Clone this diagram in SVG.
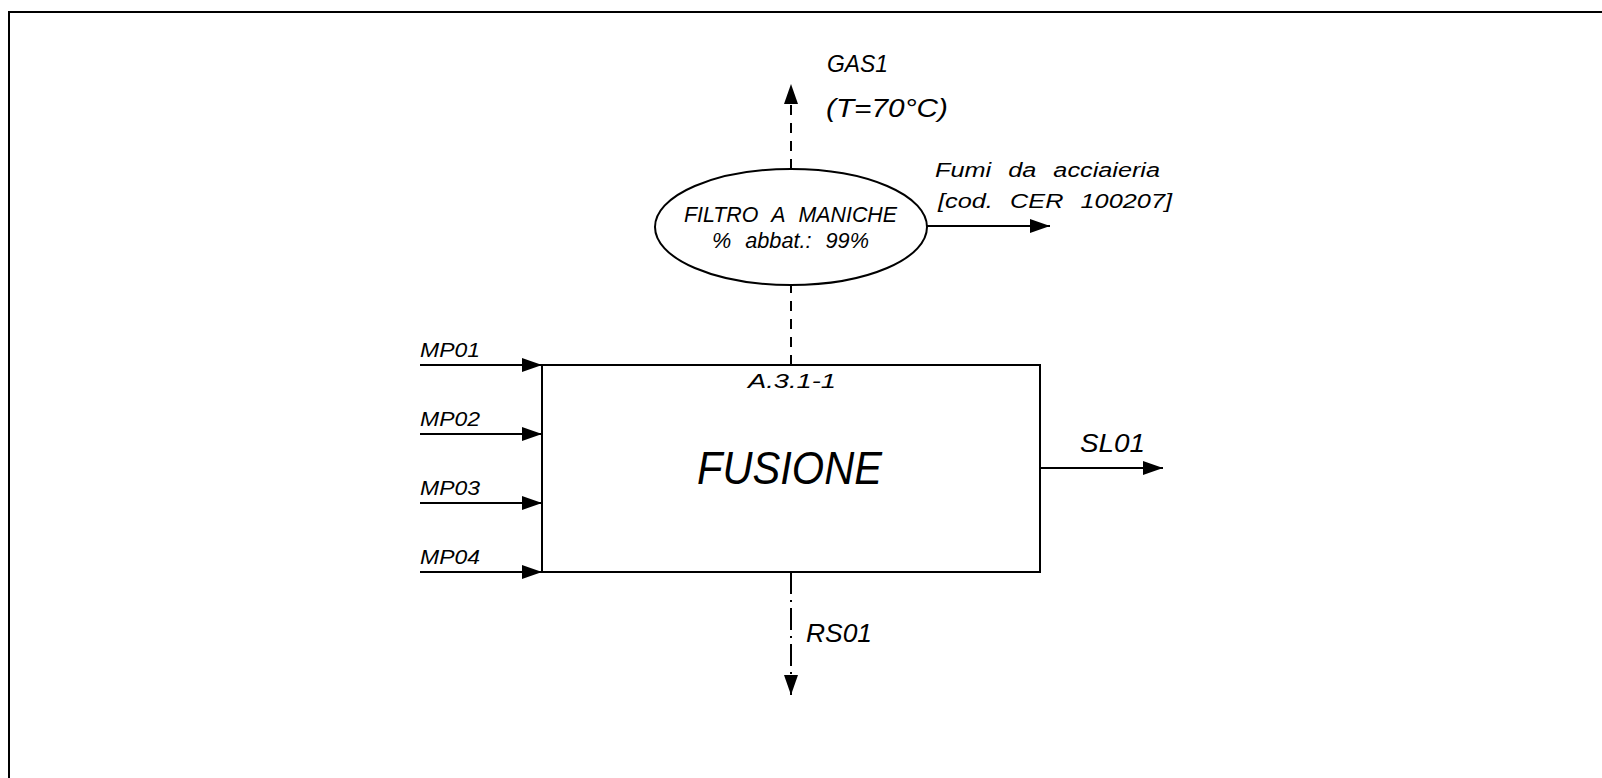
<svg xmlns="http://www.w3.org/2000/svg" width="1602" height="778" viewBox="0 0 1602 778">
<defs>
<marker id="ah" viewBox="0 0 20 14" refX="20" refY="7" markerWidth="20" markerHeight="14" markerUnits="userSpaceOnUse" orient="auto">
<path d="M0,0 L20,7 L0,14 Z" fill="#000"/>
</marker>
</defs>
<style>
text{font-family:"Liberation Sans",Arial,sans-serif;font-style:italic;fill:#000}
.ln{stroke:#000;stroke-width:2;fill:none}
.dash{stroke:#000;stroke-width:2;fill:none;stroke-dasharray:10,8}
.dd{stroke:#000;stroke-width:2;fill:none;stroke-dasharray:22,6,2,6}
.s21{font-size:21px}
.ws{word-spacing:8px}
</style>
<rect width="1602" height="778" fill="#fff"/>
<path class="ln" d="M9,790 L9,12 L1610,12"/>
<g id="connectors">
<line class="ln" x1="420" y1="365" x2="542" y2="365" marker-end="url(#ah)"/>
<line class="ln" x1="420" y1="434" x2="542" y2="434" marker-end="url(#ah)"/>
<line class="ln" x1="420" y1="503" x2="542" y2="503" marker-end="url(#ah)"/>
<line class="ln" x1="420" y1="572" x2="542" y2="572" marker-end="url(#ah)"/>
<line class="ln" x1="1040" y1="468" x2="1163" y2="468" marker-end="url(#ah)"/>
<line class="dd" x1="791" y1="572" x2="791" y2="695" marker-end="url(#ah)"/>
<line class="dash" x1="791" y1="365" x2="791" y2="285"/>
<line class="dash" x1="791" y1="169" x2="791" y2="84" marker-end="url(#ah)"/>
<line class="ln" x1="927" y1="226" x2="1050" y2="226" marker-end="url(#ah)"/>
</g>
<g id="labels">
<text class="s21" x="420" y="357" textLength="60" lengthAdjust="spacingAndGlyphs">MP01</text>
<text class="s21" x="420" y="426" textLength="60" lengthAdjust="spacingAndGlyphs">MP02</text>
<text class="s21" x="420" y="495" textLength="60" lengthAdjust="spacingAndGlyphs">MP03</text>
<text class="s21" x="420" y="564" textLength="60" lengthAdjust="spacingAndGlyphs">MP04</text>
<text x="1080" y="452" font-size="25" textLength="65" lengthAdjust="spacingAndGlyphs">SL01</text>
<text x="806" y="642" font-size="25" textLength="66" lengthAdjust="spacingAndGlyphs">RS01</text>
<text x="827" y="72" font-size="24" textLength="61" lengthAdjust="spacingAndGlyphs">GAS1</text>
<text x="826" y="117" font-size="26" textLength="122" lengthAdjust="spacingAndGlyphs">(T=70°C)</text>
<text class="ws" x="935" y="177" font-size="20" textLength="225" lengthAdjust="spacingAndGlyphs">Fumi da acciaieria</text>
<text class="ws" x="938" y="208" font-size="20" textLength="234" lengthAdjust="spacingAndGlyphs">[cod. CER 100207]</text>
</g>
<g id="fusione">
<rect class="ln" x="542" y="365" width="498" height="207"/>
<text class="s21" x="748" y="388" textLength="88" lengthAdjust="spacingAndGlyphs">A.3.1-1</text>
<text x="697" y="484" font-size="46" textLength="185" lengthAdjust="spacingAndGlyphs">FUSIONE</text>
</g>
<g id="filtro">
<ellipse class="ln" cx="791" cy="227" rx="136" ry="58"/>
<text class="ws" x="684" y="222" font-size="22" textLength="213" lengthAdjust="spacingAndGlyphs">FILTRO A MANICHE</text>
<text class="ws" x="712" y="248" font-size="22" textLength="157" lengthAdjust="spacingAndGlyphs">% abbat.: 99%</text>
</g>
</svg>
